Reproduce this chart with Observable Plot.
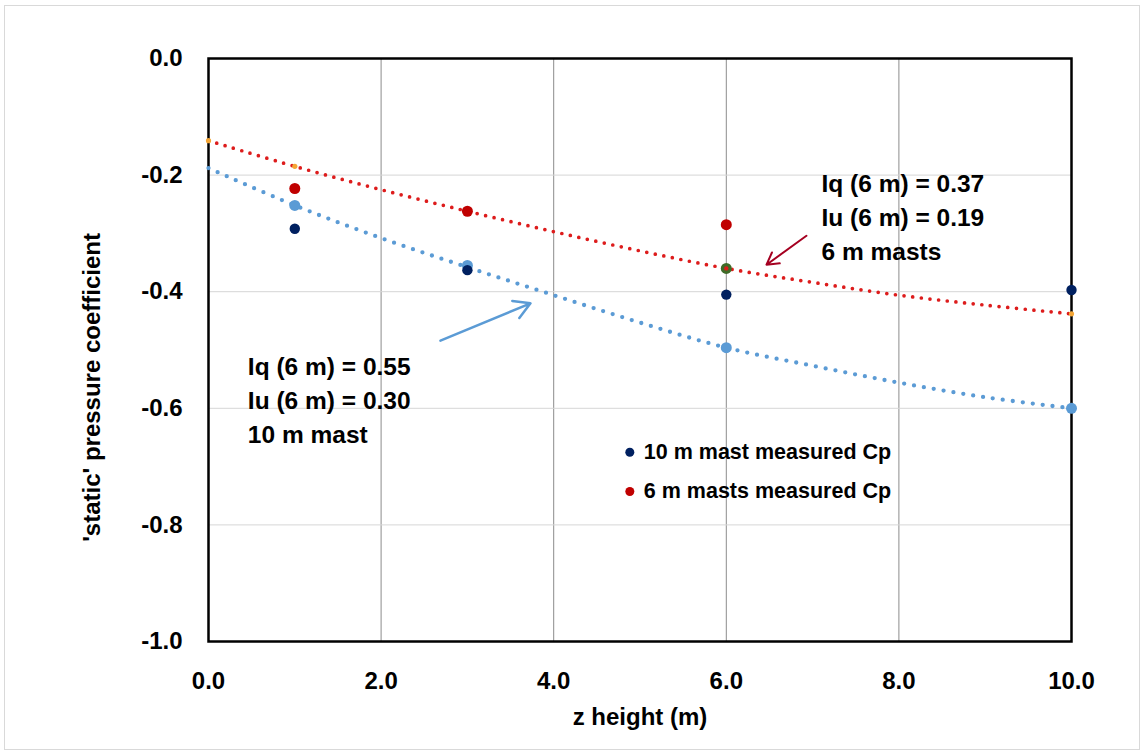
<!DOCTYPE html>
<html><head><meta charset="utf-8">
<script src="https://cdn.jsdelivr.net/npm/d3@7"></script>
<script src="https://cdn.jsdelivr.net/npm/@observablehq/plot@0.6"></script>
<style>
html,body{margin:0;padding:0;background:#fff;}
#wrap{position:relative;width:1143px;height:753px;overflow:hidden;}
#border{position:absolute;left:4px;top:5px;width:1134px;height:743px;border:1px solid #d9d9d9;}
#chart{position:absolute;left:0;top:0;}
</style></head><body>
<div id="wrap"><div id="border"></div><div id="chart"></div></div>
<script>
// ---- data ----
const mastHeights10 = [1, 3, 6, 10];
const cp10mMeasured = [-0.292, -0.363, -0.405, -0.397];
const cp10mFitPoints = [-0.252, -0.355, -0.496, -0.600];

const mastHeights6 = [1, 3, 6];
const cp6mMeasured = [-0.223, -0.262, -0.285];

const sharedPointX = [6];
const sharedPointY = [-0.360];

const curveX = [0, 1, 2, 3, 4, 5, 6, 7, 8, 9, 10];
const curve6m = [-0.141, -0.185, -0.225, -0.262, -0.297, -0.330, -0.360, -0.384, -0.406, -0.423, -0.438];
const curve10m = [-0.188, -0.252, -0.308, -0.358, -0.406, -0.453, -0.496, -0.527, -0.556, -0.581, -0.600];

const markerX = [0, 1, 10];
const markerY = [-0.141, -0.185, -0.438];

const xTicks = [0, 2, 4, 6, 8, 10];
const yTicks = [0, -0.2, -0.4, -0.6, -0.8, -1.0];
const xGrid = [2, 4, 6, 8];
const yGrid = [-0.2, -0.4, -0.6, -0.8];

const xTitle = "z height (m)";
const yTitle = "'static' pressure coefficient";

const note6m = "Iq (6 m) = 0.37\nIu (6 m) = 0.19\n6 m masts";
const note10m = "Iq (6 m) = 0.55\nIu (6 m) = 0.30\n10 m mast";
const noteX = [7.103, 0.456];
const noteY = [-0.2686, -0.5827];

const arrow6m = {x1: 6.929, y1: -0.304, x2: 6.466, y2: -0.3537};
const arrow10m = {x1: 2.688, y1: -0.484, x2: 3.731, y2: -0.420};

const legendLabels = ["10 m mast measured Cp", "6 m masts measured Cp"];
const legendColors = ["#002060", "#C00000"];
const legendX = [4.882, 4.882];
const legendY = [-0.6754, -0.7428];

// ---- tables ----
const line6 = curveX.map((x, i) => ({x, y: curve6m[i]}));
const line10 = curveX.map((x, i) => ({x, y: curve10m[i]}));
const meas10 = mastHeights10.map((x, i) => ({x, y: cp10mMeasured[i]}));
const fit10 = mastHeights10.map((x, i) => ({x, y: cp10mFitPoints[i]}));
const meas6 = mastHeights6.map((x, i) => ({x, y: cp6mMeasured[i]}));
const shared = sharedPointX.map((x, i) => ({x, y: sharedPointY[i]}));
const markers = markerX.map((x, i) => ({x, y: markerY[i]}));
const notes = [note6m, note10m].map((t, i) => ({t, x: noteX[i], y: noteY[i]}));
const legend = legendLabels.map((t, i) => ({t, c: legendColors[i], x: legendX[i], y: legendY[i]}));
const fmt = d => d.toFixed(1);
const FONT = "'Liberation Sans', Arial, sans-serif";

const chart = Plot.plot({
  width: 1143,
  height: 753,
  marginLeft: 208,
  marginRight: 72,
  marginTop: 58,
  marginBottom: 112,
  style: {background: "transparent", fontFamily: FONT, fontWeight: "bold", color: "#000", overflow: "visible"},
  x: {domain: [0, 10]},
  y: {domain: [-1, 0]},
  marks: [
    Plot.gridX(xGrid, {stroke: "#8c8c8c", strokeOpacity: 1, strokeWidth: 1}),
    Plot.gridY(yGrid, {stroke: "#d6d6d6", strokeOpacity: 1, strokeWidth: 1}),
    Plot.frame({stroke: "#000", strokeWidth: 2.5}),
    Plot.axisX({ticks: xTicks, tickSize: 0, tickPadding: 30, tickFormat: fmt, label: null, fontSize: 24, fontWeight: "bold", fill: "#000"}),
    Plot.axisY({ticks: yTicks, tickSize: 0, tickPadding: 26, tickFormat: fmt, label: null, fontSize: 24, fontWeight: "bold", fill: "#000"}),
    Plot.text([xTitle], {text: d => d, frameAnchor: "bottom", dy: 76, lineAnchor: "middle", fontSize: 24, fontWeight: "bold", fill: "#000"}),
    Plot.text([yTitle], {text: d => d, frameAnchor: "left", rotate: -90, textAnchor: "end", dx: -116, dy: -117, lineAnchor: "middle", fontSize: 24, fontWeight: "bold", fill: "#000"}),
    Plot.line(line6, {x: "x", y: "y", stroke: "#dd1c1c", strokeWidth: 3.7, strokeDasharray: "0 8.7", strokeLinecap: "round", curve: "catmull-rom"}),
    Plot.line(line10, {x: "x", y: "y", stroke: "#5b9bd5", strokeWidth: 4.3, strokeDasharray: "0 10", strokeLinecap: "round", curve: "catmull-rom"}),
    Plot.arrow([arrow6m], {x1: "x1", y1: "y1", x2: "x2", y2: "y2", stroke: "#a50021", strokeWidth: 2, headLength: 10, bend: 0}),
    Plot.arrow([arrow10m], {x1: "x1", y1: "y1", x2: "x2", y2: "y2", stroke: "#5b9bd5", strokeWidth: 2.5, headLength: 11, bend: 0}),
    Plot.dot(markers, {x: "x", y: "y", r: 2.6, fill: "#f4a636"}),
    Plot.dot(fit10, {x: "x", y: "y", r: 5.5, fill: "#5b9bd5"}),
    Plot.dot(shared, {x: "x", y: "y", r: 5.5, fill: "#3f6b28"}),
    Plot.dot(shared, {x: "x", y: "y", r: 2.2, fill: "#dd1c1c"}),
    Plot.dot(meas6, {x: "x", y: "y", r: 5.5, fill: "#C00000"}),
    Plot.dot(meas10, {x: "x", y: "y", r: 5.2, fill: "#002060"}),
    Plot.text(notes, {x: "x", y: "y", text: "t", textAnchor: "start", lineAnchor: "middle", lineHeight: 1.4, fontSize: 24.5, fontWeight: "bold", fill: "#000"}),
    Plot.dot(legend, {x: "x", y: "y", r: 4.5, fill: "c"}),
    Plot.text(legend, {x: "x", y: "y", text: "t", dx: 14, textAnchor: "start", lineAnchor: "middle", fontSize: 21.5, fontWeight: "bold", fill: "#000"})
  ]
});
document.getElementById("chart").appendChild(chart);
</script>
</body></html>
